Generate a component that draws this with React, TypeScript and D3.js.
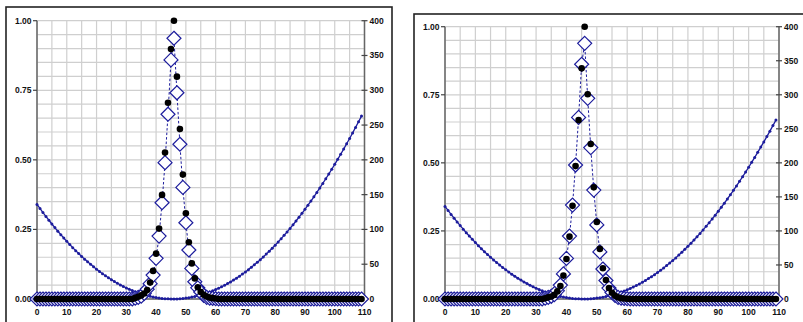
import React from 'react';
import * as d3 from 'd3';

// x categories 0..109
const xs = d3.range(0, 110);

// right axis series (parabola)
const curve = [
  136.0, 130.1, 124.3, 118.7, 113.2, 107.8, 102.6, 97.4, 92.5, 87.6,
  82.9, 78.3, 73.8, 69.5, 65.3, 61.2, 57.3, 53.5, 49.8, 46.3,
  42.9, 39.6, 36.4, 33.4, 30.5, 27.8, 25.1, 22.6, 20.3, 18.0,
  15.9, 13.9, 12.1, 10.4, 8.8, 7.3, 6.0, 4.8, 3.8, 2.8,
  2.1, 1.4, 0.8, 0.4, 0.2, 0.0, 0.0, 0.1, 0.4, 0.8,
  1.3, 1.9, 2.7, 3.6, 4.6, 5.8, 7.1, 8.5, 10.1, 11.7,
  13.6, 15.5, 17.6, 19.8, 22.1, 24.6, 27.2, 30.0, 32.8, 35.8,
  38.9, 42.2, 45.6, 49.1, 52.8, 56.5, 60.4, 64.5, 68.7, 73.0,
  77.4, 82.0, 86.7, 91.5, 96.4, 101.5, 106.7, 112.1, 117.6, 123.2,
  128.9, 134.8, 140.8, 146.9, 153.2, 159.6, 166.1, 172.8, 179.6, 186.5,
  193.5, 200.7, 208.0, 215.5, 223.1, 230.7, 238.6, 246.6, 254.7, 262.9,
];

// peak values for x = 33..60, zero elsewhere
const PEAK_START = 33;
const leftDots = [0.004, 0.008, 0.013, 0.02, 0.032, 0.059, 0.101, 0.163, 0.253, 0.374, 0.526, 0.705, 0.898, 1.0,
  0.799, 0.611, 0.447, 0.308, 0.204, 0.128, 0.074, 0.042, 0.025, 0.015, 0.009, 0.005, 0.003, 0.002];
const leftDiamonds = [0.003, 0.006, 0.01, 0.02, 0.035, 0.055, 0.086, 0.146, 0.226, 0.346, 0.49, 0.664, 0.859, 0.937,
  0.741, 0.556, 0.401, 0.274, 0.176, 0.11, 0.062, 0.04, 0.025, 0.013, 0.006, 0.003, 0.002, 0.001];
const rightDots = [0.003, 0.006, 0.009, 0.015, 0.028, 0.048, 0.086, 0.147, 0.229, 0.342, 0.488, 0.657, 0.847, 1.0,
  0.752, 0.569, 0.41, 0.283, 0.184, 0.113, 0.07, 0.04, 0.023, 0.012, 0.006, 0.003, 0.002, 0.001];
const rightDiamonds = [0.003, 0.006, 0.01, 0.016, 0.03, 0.051, 0.092, 0.149, 0.231, 0.345, 0.492, 0.667, 0.862, 0.939,
  0.737, 0.556, 0.4, 0.272, 0.173, 0.11, 0.068, 0.04, 0.024, 0.013, 0.006, 0.003, 0.002, 0.001];

const xTicks = d3.range(0, 111, 10);
const leftTicks = [0, 0.25, 0.5, 0.75, 1.0];
const rightTicks = [0, 50, 100, 150, 200, 250, 300, 350, 400];

const pad = (vals: number[]) => xs.map(x => {
  const i = x - PEAK_START;
  return i >= 0 && i < vals.length ? vals[i] : 0;
});

const BLUE = '#1c1c9c';
const FONT = '"Liberation Sans", Arial, sans-serif';

type ChartProps = {
  frame: { x: number; y: number; w: number; h: number };
  plot: { x0: number; x1: number; y0: number; y1: number };
  dots: number[];
  diamonds: number[];
};

function Chart({ frame, plot, dots, diamonds }: ChartProps) {
  const x = d3.scaleLinear().domain([0, 110]).range([plot.x0, plot.x1]);
  const yL = d3.scaleLinear().domain([0, 1]).range([plot.y1, plot.y0]);
  const yR = d3.scaleLinear().domain([0, 400]).range([plot.y1, plot.y0]);

  const dotVals = pad(dots);
  const diaVals = pad(diamonds);

  const curveLine = d3.line<number>().x((_, i) => x(xs[i])).y(d => yR(d))(curve) || '';
  const diaLine = d3.line<number>().x((_, i) => x(xs[i])).y(d => yL(d))(diaVals) || '';

  const vGrid = d3.range(0, 111, 5);
  const hGrid = d3.range(0, 21).map(i => i * 0.05);

  return (
    <g>
      <rect x={frame.x} y={frame.y} width={frame.w} height={frame.h} fill="#fff" stroke="#222" strokeWidth={1.6} />
      {vGrid.map(v => (
        <line key={'v' + v} x1={x(v)} x2={x(v)} y1={plot.y0} y2={plot.y1} stroke="#cfcfcf" strokeWidth={1.2} />
      ))}
      {hGrid.map((v, i) => (
        <line key={'h' + i} x1={plot.x0} x2={plot.x1} y1={yL(v)} y2={yL(v)} stroke="#cfcfcf" strokeWidth={1.2} />
      ))}
      {/* axes */}
      <line x1={plot.x0} x2={plot.x0} y1={plot.y0} y2={plot.y1} stroke="#666" strokeWidth={1.5} />
      <line x1={plot.x1} x2={plot.x1} y1={plot.y0} y2={plot.y1} stroke="#666" strokeWidth={1.5} />
      <line x1={plot.x0} x2={plot.x1} y1={plot.y1} y2={plot.y1} stroke="#666" strokeWidth={1.5} />
      {leftTicks.map(t => (
        <g key={'lt' + t}>
          <line x1={plot.x0 - 4} x2={plot.x0} y1={yL(t)} y2={yL(t)} stroke="#444" strokeWidth={1.2} />
          <text x={plot.x0 - 5.5} y={yL(t) + 3} textAnchor="end" fontFamily={FONT} fontWeight="bold" fontSize={8.5} fill="#111">
            {t.toFixed(2)}
          </text>
        </g>
      ))}
      {rightTicks.map(t => (
        <g key={'rt' + t}>
          <line x1={plot.x1 - 3} x2={plot.x1 + 3} y1={yR(t)} y2={yR(t)} stroke="#444" strokeWidth={1.2} />
          <text x={plot.x1 + 5} y={yR(t) + 3} textAnchor="start" fontFamily={FONT} fontWeight="bold" fontSize={8.5} fill="#111">
            {t}
          </text>
        </g>
      ))}
      {xTicks.map(t => (
        <text key={'xt' + t} x={x(t)} y={plot.y1 + 15.5} textAnchor="middle" fontFamily={FONT} fontWeight="bold" fontSize={8.5} fill="#111">
          {t}
        </text>
      ))}
      {/* parabola on right axis */}
      <path d={curveLine} fill="none" stroke={BLUE} strokeWidth={1.3} />
      {curve.map((v, i) => (
        <circle key={'c' + i} cx={x(xs[i])} cy={yR(v)} r={1.5} fill={BLUE} />
      ))}
      {/* diamonds series */}
      <path d={diaLine} fill="none" stroke={BLUE} strokeWidth={1} strokeDasharray="2.5,2" />
      {diaVals.map((v, i) => (
        <path key={'d' + i} d="M0,-7L7,0L0,7L-7,0Z" transform={`translate(${x(xs[i])},${yL(v)})`}
          fill="#fff" stroke={BLUE} strokeWidth={1.2} />
      ))}
      {/* dots series */}
      {dotVals.map((v, i) => (
        <circle key={'p' + i} cx={x(xs[i])} cy={yL(v)} r={3.3} fill="#000" />
      ))}
    </g>
  );
}

export default function App() {
  return (
    <svg width={803} height={322} style={{ position: 'absolute', left: 0, top: 0, background: '#fff' }}>
      <Chart
        frame={{ x: 6, y: 7, w: 386, h: 330 }}
        plot={{ x0: 37, x1: 364.5, y0: 20.7, y1: 299 }}
        dots={leftDots}
        diamonds={leftDiamonds}
      />
      <Chart
        frame={{ x: 414, y: 14, w: 400, h: 330 }}
        plot={{ x0: 445, x1: 779, y0: 26.7, y1: 299 }}
        dots={rightDots}
        diamonds={rightDiamonds}
      />
    </svg>
  );
}
